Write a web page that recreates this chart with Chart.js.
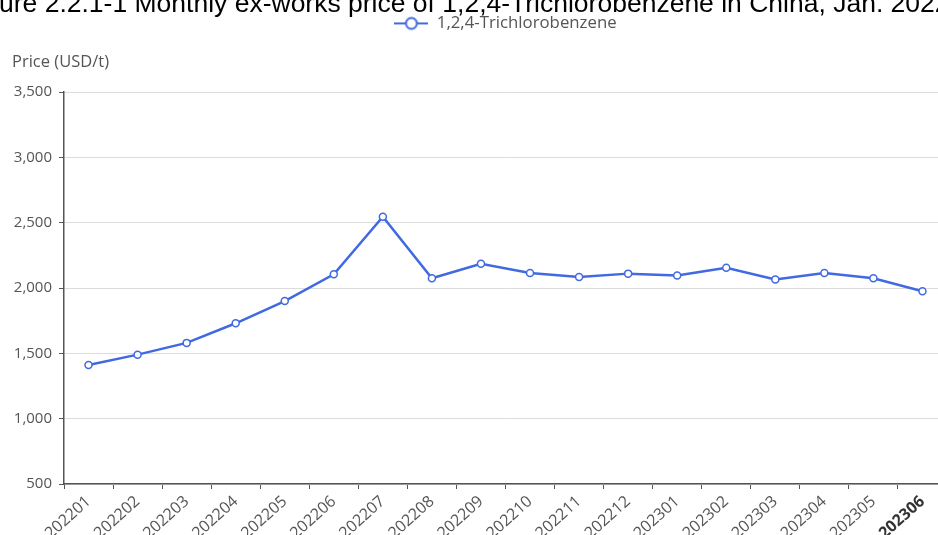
<!DOCTYPE html>
<html>
<head>
<meta charset="utf-8">
<title>1,2,4-Trichlorobenzene price</title>
<script src="https://cdn.jsdelivr.net/npm/chart.js@4/dist/chart.umd.min.js"></script>
<style>
  html, body { margin: 0; padding: 0; background: #fff; overflow: hidden; }
  #wrap { position: relative; width: 938px; height: 535px; overflow: hidden; }
  canvas { display: block; }
</style>
</head>
<body>
<div id="wrap"><canvas id="chart" width="1011" height="535"></canvas></div>
<script>
// ====== DATA ======
const months = [
  "202201", "202202", "202203", "202204", "202205", "202206",
  "202207", "202208", "202209", "202210", "202211", "202212",
  "202301", "202302", "202303", "202304", "202305", "202306",
];
const prices = [
  1410, 1490, 1580, 1730, 1900, 2105,
  2545, 2075, 2185, 2115, 2085, 2110,
  2095, 2155, 2065, 2115, 2075, 1975,
];
const yMin = 500;
const yMax = 3500;
const yStep = 500;

const seriesName = "1,2,4-Trichlorobenzene";
const yName = "Price (USD/t)";
const headline =
  "Figure 2.2.1-1 Monthly ex-works price of 1,2,4-Trichlorobenzene in China, Jan. 2022\u2013Jun. 2023";

// ====== STYLE ======
const LINE = "#4169e1";
const TEXT = "#555";
const AXIS = "#555";
const GRID = "#dcdcdc";
const FONT = '"Open Sans", "Noto Sans", sans-serif';
const HEADER_H = 87; // legend row + room for the axis name

// legend marker: short line with a hollow circle on it
function legendIcon() {
  const c = document.createElement("canvas");
  c.width = 34;
  c.height = 16;
  const g = c.getContext("2d");
  g.strokeStyle = LINE;
  g.lineWidth = 2;
  g.beginPath();
  g.moveTo(0, 8);
  g.lineTo(34, 8);
  g.stroke();
  g.beginPath();
  g.arc(17, 8, 5.5, 0, Math.PI * 2);
  g.fillStyle = "#fff";
  g.fill();
  g.stroke();
  return c;
}

// make the legend box tall enough to hold the axis name below it
const legendRoom = {
  id: "legendRoom",
  beforeLayout(chart) {
    const lg = chart.legend;
    if (lg && !lg._roomPatched) {
      const fit = lg.fit;
      lg.fit = function () {
        fit.call(this);
        this.height = HEADER_H;
      };
      lg._roomPatched = true;
    }
  },
};

// headline above the legend and the axis name over the y axis
const headerText = {
  id: "headerText",
  afterDraw(chart) {
    const { ctx, chartArea } = chart;
    ctx.save();
    ctx.font = '26.5px "Liberation Sans", Arial, sans-serif';
    ctx.fillStyle = "#000";
    ctx.textAlign = "left";
    ctx.textBaseline = "alphabetic";
    ctx.fillText(headline, -ctx.measureText("Fig").width - 1, 12);

    ctx.font = "16.5px " + FONT;
    ctx.fillStyle = TEXT;
    ctx.textBaseline = "middle";
    ctx.fillText(yName, 12, chartArea.top - 30);
    ctx.restore();
  },
};

const lastIdx = months.length - 1;

new Chart(document.getElementById("chart"), {
  type: "line",
  data: {
    labels: months,
    datasets: [
      {
        label: seriesName,
        data: prices,
        borderColor: LINE,
        borderWidth: 2.5,
        tension: 0,
        fill: false,
        pointRadius: 3.5,
        pointBackgroundColor: "#fff",
        pointBorderColor: LINE,
        pointBorderWidth: 1.5,
      },
    ],
  },
  options: {
    responsive: false,
    animation: false,
    layout: { padding: { top: 5, left: 0, right: 64, bottom: 0 } },
    plugins: {
      legend: {
        fullSize: false,
        labels: {
          usePointStyle: true,
          pointStyle: legendIcon(),
          pointStyleWidth: 34,
          padding: 10,
          color: TEXT,
          font: { family: FONT, size: 16.8 },
        },
      },
      tooltip: { enabled: false },
    },
    scales: {
      x: {
        offset: true,
        grid: {
          offset: true,
          drawOnChartArea: false,
          tickLength: 5,
          tickColor: AXIS,
        },
        border: { color: AXIS, width: 1.5 },
        ticks: {
          autoSkip: false,
          minRotation: 42,
          maxRotation: 42,
          padding: 3,
          color: (c) => (c.index === lastIdx ? "#333" : TEXT),
          font: (c) => ({
            family: FONT,
            size: 16,
            weight: c.index === lastIdx ? "bold" : "normal",
          }),
        },
        afterFit: (s) => {
          s.height = 51;
        },
      },
      y: {
        min: yMin,
        max: yMax,
        grid: { color: GRID, tickLength: 5, tickColor: AXIS },
        border: { color: AXIS, width: 1.5 },
        ticks: {
          stepSize: yStep,
          padding: 7,
          color: TEXT,
          font: { family: FONT, size: 15 },
          callback: (v) => v.toLocaleString("en-US"),
        },
        afterFit: (s) => {
          s.width = 64;
        },
      },
    },
  },
  plugins: [legendRoom, headerText],
});
</script>
</body>
</html>
